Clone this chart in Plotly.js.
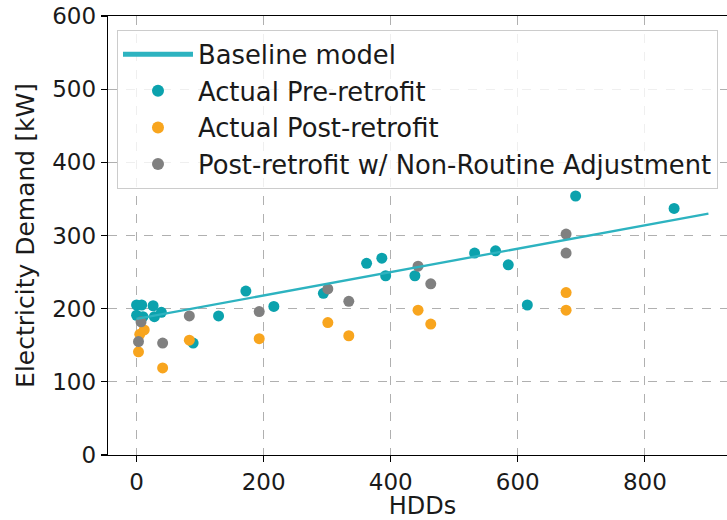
<!DOCTYPE html>
<html>
<head>
<meta charset="utf-8">
<script src="https://cdn.plot.ly/plotly-3.0.1.min.js"></script>
<style>
  html, body { margin: 0; padding: 0; overflow: hidden; background: #fff; }
  #chart { width: 745px; height: 520px; }
</style>
</head>
<body>
<div id="chart"></div>
<script>
// Baseline regression line (HDDs -> kW)
const baselineX = [0, 900];
const baselineY = [186, 330];

// Measured demand before the retrofit
const preX = [0, 8, 26, 0, 10, 28, 39, 89, 129, 172, 216, 294, 362, 386, 392, 438, 532, 565, 585, 615, 691, 846];
const preY = [205, 205, 204, 191, 189, 189, 195, 153, 190, 224, 203, 221, 262, 269, 245, 245, 276, 279, 260, 205, 354, 337];

// Measured demand after the retrofit
const postX = [3, 5, 12, 41, 83, 193, 301, 334, 443, 463, 676, 676];
const postY = [141, 165, 171, 119, 157, 159, 181, 163, 198, 179, 222, 198];

// Post-retrofit demand with the non-routine adjustment applied
const nraX = [3, 7, 41, 83, 193, 301, 334, 443, 463, 676, 676];
const nraY = [155, 182, 153, 190, 196, 227, 210, 258, 234, 302, 276];

const TEAL = '#0ba2ad';
const LINE = '#2db3c0';
const ORANGE = '#f8a51e';
const GREY = '#808080';
const FONT = '"DejaVu Sans", sans-serif';

const pointSize = 11;

const traces = [
  {
    x: preX, y: preY, type: 'scatter', mode: 'markers',
    name: 'Actual Pre-retrofit', legendrank: 2, legendgroup: 'b',
    marker: { color: TEAL, size: pointSize }
  },
  {
    x: postX, y: postY, type: 'scatter', mode: 'markers',
    name: 'Actual Post-retrofit', legendrank: 3, legendgroup: 'c',
    marker: { color: ORANGE, size: pointSize }
  },
  {
    x: nraX, y: nraY, type: 'scatter', mode: 'markers',
    name: 'Post-retrofit w/ Non-Routine Adjustment', legendrank: 4, legendgroup: 'd',
    marker: { color: GREY, size: pointSize }
  },
  {
    x: baselineX, y: baselineY, type: 'scatter', mode: 'lines',
    name: 'Baseline model', legendrank: 1, legendgroup: 'a',
    line: { color: LINE, width: 2.3 }
  }
];

const axisCommon = {
  showline: true, mirror: true, linecolor: '#000', linewidth: 1.3,
  ticks: 'outside', ticklen: 6, tickwidth: 1.2, tickcolor: '#000',
  showgrid: true, gridcolor: '#b0b0b0', griddash: 'dash', gridwidth: 1,
  zeroline: false,
  tickfont: { family: FONT, size: 23, color: '#1a1a1a' }
};

const layout = {
  width: 745, height: 520,
  margin: { l: 108, r: 8, t: 16, b: 65 },
  paper_bgcolor: '#fff', plot_bgcolor: '#fff',
  font: { family: FONT, size: 23, color: '#1a1a1a' },
  showlegend: true,
  xaxis: Object.assign({}, axisCommon, {
    range: [-45, 945], tickvals: [0, 200, 400, 600, 800],
    title: { text: 'HDDs', font: { family: FONT, size: 24, color: '#1a1a1a' }, standoff: 5 }
  }),
  yaxis: Object.assign({}, axisCommon, {
    range: [0, 600], tickvals: [0, 100, 200, 300, 400, 500, 600],
    title: { text: 'Electricity Demand [kW]', font: { family: FONT, size: 25, color: '#1a1a1a' }, standoff: 10 }
  }),
  legend: {
    x: 0.0143, y: 0.968, xanchor: 'left', yanchor: 'top',
    bgcolor: 'rgba(255,255,255,0.8)', bordercolor: '#cccccc', borderwidth: 1,
    font: { family: FONT, size: 25.8, color: '#1a1a1a' },
    traceorder: 'grouped', tracegroupgap: 0,
    itemsizing: 'constant', itemwidth: 70
  }
};

Plotly.newPlot('chart', traces, layout, { staticPlot: true, displayModeBar: false });
</script>
</body>
</html>
